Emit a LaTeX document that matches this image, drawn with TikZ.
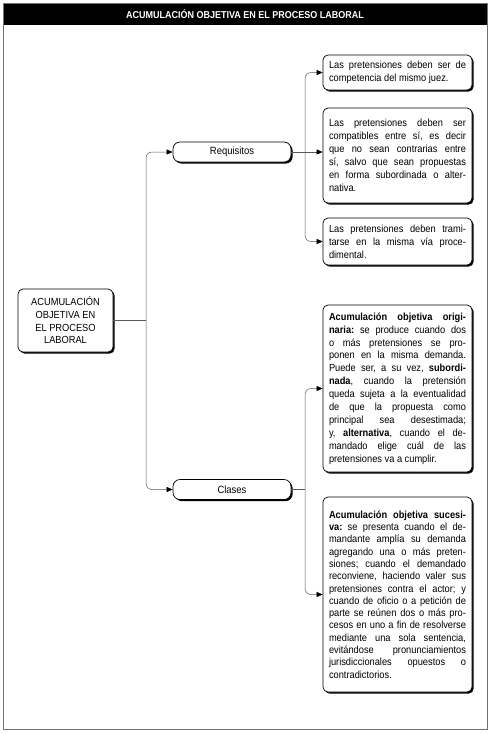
\documentclass[tikz,border=0pt]{standalone}
\usepackage{fontspec}
\setmainfont{Liberation Sans}[FakeStretch=0.9]
\usetikzlibrary{arrows.meta,shadows}
\frenchspacing
\newcommand{\jline}[1]{\hbox to 137pt{\spaceskip=0pt\xspaceskip=0pt #1}}
\newcommand{\lline}[1]{\hbox{\spaceskip=0pt\xspaceskip=0pt #1}}
\tikzset{
  box/.style={draw=black, line width=0.7pt, rounded corners=5pt, fill=white,
    drop shadow={shadow xshift=1.6pt, shadow yshift=-1.6pt, fill=black, opacity=1}},
  txtbox/.style={box, text width=137pt, inner xsep=6pt, inner ysep=0pt, align=left,
    font=\fontsize{10.3}{12.9}\selectfont\frenchspacing},
  midbox/.style={box, minimum width=118pt, minimum height=20pt, inner sep=1pt,
    rounded corners=7pt, font=\fontsize{10.5}{11}\selectfont},
  conn/.style={draw=black!65, line width=0.5pt},
  arr/.style={conn, rounded corners=6pt, -{Triangle[length=6pt,width=5pt,color=black]}}
}
\begin{document}
\begin{tikzpicture}[x=1pt,y=-1pt]
\useasboundingbox (0,0) rectangle (491,734);
\draw[black!55, line width=0.8pt] (3.5,3.5) rectangle (487,729);
\fill[black] (3.5,3.5) rectangle (487,25);
\node[text=white, font=\bfseries\fontsize{10}{11}\selectfont] (title) at (245,14.5) {ACUMULACIÓN OBJETIVA EN EL PROCESO LABORAL};

\node[box, minimum width=95pt, minimum height=63pt, inner sep=2pt, align=center,
  font=\fontsize{10.3}{12.7}\selectfont] (main) at (65.5,320.5)
  {ACUMULACIÓN\\OBJETIVA EN\\EL PROCESO\\LABORAL};

\node[midbox] (req) at (232,152) {Requisitos};
\node[midbox] (cla) at (232,489.5) {Clases};

\node[txtbox, minimum height=35pt] (b1) at (397.5,72.5) {%
\jline{Las pretensiones deben ser de}
\lline{competencia del mismo juez.}};

\node[txtbox, minimum height=95pt] (b2) at (397.5,155.5) {%
\jline{Las pretensiones deben ser}
\jline{compatibles entre sí, es decir}
\jline{que no sean contrarias entre}
\jline{sí, salvo que sean propuestas}
\jline{en forma subordinada o alter-}
\lline{nativa.}};

\node[txtbox, minimum height=47pt] (b3) at (397.5,241.5) {%
\jline{Las pretensiones deben trami-}
\jline{tarse en la misma vía proce-}
\lline{dimental.}};

\node[txtbox, minimum height=167pt] (b4) at (397.5,388.5) {%
\jline{\textbf{Acumulación objetiva origi-}}
\jline{\textbf{naria:} se produce cuando dos}
\jline{o más pretensiones se pro-}
\jline{ponen en la misma demanda.}
\jline{Puede ser, a su vez, \textbf{subordi-}}
\jline{\textbf{nada}, cuando la pretensión}
\jline{queda sujeta a la eventualidad}
\jline{de que la propuesta como}
\jline{principal sea desestimada;}
\jline{y, \textbf{alternativa}, cuando el de-}
\jline{mandado elige cuál de las}
\lline{pretensiones va a cumplir.}};

\node[txtbox, minimum height=195pt, font=\fontsize{10.3}{12.3}\selectfont\frenchspacing] (b5) at (397.5,594.5) {%
\jline{\textbf{Acumulación objetiva sucesi-}}
\jline{\textbf{va:} se presenta cuando el de-}
\jline{mandante amplía su demanda}
\jline{agregando una o más preten-}
\jline{siones; cuando el demandado}
\jline{reconviene, haciendo valer sus}
\jline{pretensiones contra el actor; y}
\jline{cuando de oficio o a petición de}
\jline{parte se reúnen dos o más pro-}
\jline{cesos en uno a fin de resolverse}
\jline{mediante una sola sentencia,}
\jline{evitándose pronunciamientos}
\jline{jurisdiccionales opuestos o}
\lline{contradictorios.}};

\coordinate (j1) at (146,320.5);
\draw[conn] (main.east) -- (j1);
\draw[arr] (j1) |- (req.west);
\draw[arr] (j1) |- (cla.west);

\coordinate (j2) at (305,152);
\draw[arr] (req.east) -- (req.east -| b2.west);
\draw[arr] (j2) |- (b1.west);
\draw[arr] (j2) |- (b3.west);

\coordinate (j3) at (305,489.5);
\draw[conn] (cla.east) -- (j3);
\draw[arr] (j3) |- (b4.west);
\draw[arr] (j3) |- (b5.west);
\end{tikzpicture}
\end{document}
